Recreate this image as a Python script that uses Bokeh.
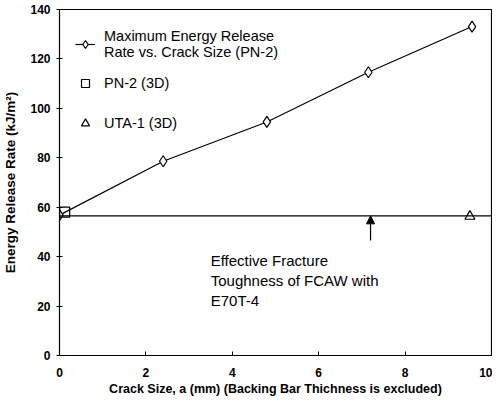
from bokeh.plotting import figure
from bokeh.models import Span, Arrow, NormalHead, Legend, LegendItem, Range1d, FixedTicker
from bokeh.core.properties import value
from bokeh.embed import file_html
from bokeh.resources import INLINE

# data
crack_size = [0.0, 2.4, 4.8, 7.15, 9.55]
max_g = [56.8, 78.6, 94.5, 114.6, 133.1]
pn2_x = [0.12]
pn2_y = [58.0]
uta_x = [9.5]
uta_y = [56.3]
toughness = 56.5
arrow_x = 7.2
arrow_y0 = 46.5
note_x = 3.5
note_y = 42.0
note_text = "Effective Fracture\nToughness of FCAW with\nE70T-4"
x_ticks = [0, 2, 4, 6, 8, 10]
y_ticks = [0, 20, 40, 60, 80, 100, 120, 140]

FONT = "Liberation Sans"

p = figure(width=492, height=398, output_backend="svg", toolbar_location=None,
           x_range=Range1d(0, 10), y_range=Range1d(0, 140),
           min_border_left=59, min_border_right=1, min_border_top=9, min_border_bottom=42)
p.xgrid.visible = False
p.ygrid.visible = False
p.outline_line_color = "black"
p.outline_line_width = 1.2
p.background_fill_color = "white"
p.border_fill_color = "white"

for ax in (p.xaxis[0], p.yaxis[0]):
    ax.axis_line_color = "black"
    ax.major_tick_line_color = "black"
    ax.minor_tick_line_color = None
    ax.major_label_text_font = FONT
    ax.major_label_text_font_style = "bold"
    ax.major_label_text_font_size = "12px"
    ax.major_label_text_color = "black"
    ax.axis_label_text_font = FONT
    ax.axis_label_text_font_style = "bold"
    ax.axis_label_text_color = "black"

p.xaxis.axis_label_text_font_size = "12.5px"
p.yaxis.axis_label_text_font_size = "13.5px"
p.xaxis.ticker = FixedTicker(ticks=x_ticks)
p.yaxis.ticker = FixedTicker(ticks=y_ticks)
p.xaxis.major_tick_in = 4
p.xaxis.major_tick_out = 0
p.yaxis.major_tick_in = 3
p.yaxis.major_tick_out = 3
p.xaxis.major_label_standoff = 12
p.yaxis.major_label_standoff = 6
p.xaxis.axis_label = "Crack Size, a (mm) (Backing Bar Thichness is excluded)"
p.yaxis.axis_label = "Energy Release Rate (kJ/m\u00b2)"
p.xaxis.axis_label_standoff = 2
p.yaxis.axis_label_standoff = 9

p.add_layout(Span(location=toughness, dimension="width", line_color="black", line_width=1.2))

ln = p.line(crack_size, max_g, line_color="black", line_width=1.2)
dm = p.scatter(crack_size, max_g, marker="diamond", size=11, fill_color="white",
               line_color="black", line_width=1.2)
sq = p.scatter(pn2_x, pn2_y, marker="square", size=10, fill_color=None,
               line_color="black", line_width=1.2)
tr = p.scatter(uta_x, uta_y, marker="triangle", size=10, fill_color=None,
               line_color="black", line_width=1.2)

p.add_layout(Arrow(x_start=arrow_x, y_start=arrow_y0, x_end=arrow_x, y_end=toughness,
                   line_color="black", line_width=1.2,
                   end=NormalHead(size=8, fill_color="black", line_color="black")))

p.text(x=[note_x], y=[note_y], text=[note_text], text_font=value(FONT),
       text_font_size="15px", text_baseline="top", text_align="left",
       text_color="black", text_line_height=1.2)


def make_legend(items, loc, spacing):
    lg = Legend(items=items, location=loc)
    lg.border_line_color = None
    lg.background_fill_alpha = 0
    lg.label_text_font = FONT
    lg.label_text_font_size = "14.5px"
    lg.label_text_color = "black"
    lg.label_text_line_height = 1.17
    lg.glyph_width = 20
    lg.glyph_height = 20
    lg.label_height = 20
    lg.spacing = spacing
    lg.padding = 0
    lg.margin = 0
    lg.label_standoff = 9
    return lg


leg1 = make_legend([
    LegendItem(label="Maximum Energy Release\nRate vs. Crack Size (PN-2)", renderers=[ln, dm]),
    LegendItem(label="PN-2 (3D)", renderers=[sq]),
], (16, 262), 13)
leg2 = make_legend([
    LegendItem(label="UTA-1 (3D)", renderers=[tr]),
], (16, 222), 0)
p.add_layout(leg1, "center")
p.add_layout(leg2, "center")

open("out.html", "w").write(file_html(p, INLINE))
